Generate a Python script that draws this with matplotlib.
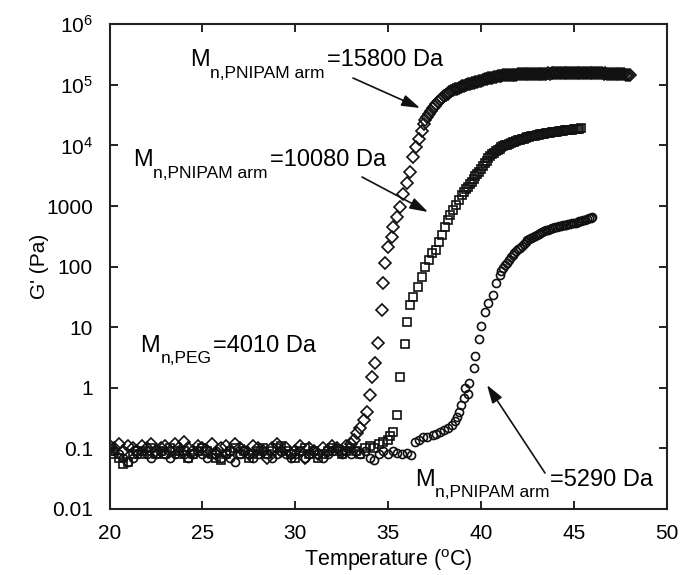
import matplotlib
matplotlib.use('Agg')
import matplotlib.pyplot as plt

plt.rcParams['font.family'] = ['Liberation Sans', 'DejaVu Sans']
plt.rcParams['mathtext.fontset'] = 'custom'
plt.rcParams['mathtext.rm'] = 'Liberation Sans'
plt.rcParams['mathtext.it'] = 'Liberation Sans:italic'

# ---- data ----
# diamonds, M_n,PNIPAM arm = 15800 Da
t_15800 = [20.0, 20.25, 20.5, 20.75, 21.0, 21.25, 21.5, 21.75, 22.0, 22.25,
           22.5, 22.75, 23.0, 23.25, 23.5, 23.75, 24.0, 24.25, 24.5, 24.75,
           25.0, 25.25, 25.5, 25.75, 26.0, 26.25, 26.5, 26.75, 27.0, 27.25,
           27.5, 27.75, 28.0, 28.25, 28.5, 28.75, 29.0, 29.25, 29.5, 29.75,
           30.0, 30.25, 30.5, 30.75, 31.0, 31.25, 31.5, 31.75, 32.0, 32.25,
           32.5, 32.75, 33.0,
           33.15, 33.3, 33.5, 33.68, 33.85, 34.0, 34.12, 34.27, 34.45, 34.66,
           34.73, 34.85, 35.0, 35.2, 35.27, 35.5, 35.65, 35.8, 36.0, 36.2,
           36.35, 36.5, 36.65, 36.8, 36.95,
           37.0, 37.1, 37.2, 37.3, 37.4, 37.5, 37.6, 37.7, 37.8, 37.9,
           38.0, 38.1, 38.2, 38.3, 38.4, 38.5, 38.6, 38.7, 38.8, 38.9,
           39.0, 39.1, 39.2, 39.3, 39.4, 39.5, 39.6, 39.7, 39.8, 39.9,
           40.0, 40.1, 40.2, 40.3, 40.4, 40.5, 40.6, 40.7, 40.8, 40.9,
           41.0, 41.1, 41.2, 41.3, 41.4, 41.5, 41.6, 41.7, 41.8, 41.9,
           42.0, 42.1, 42.2, 42.3, 42.4, 42.5, 42.6, 42.7, 42.8, 42.9,
           43.0, 43.1, 43.2, 43.3, 43.4, 43.5, 43.6, 43.7, 43.8, 43.9,
           44.0, 44.1, 44.2, 44.3, 44.4, 44.5, 44.6, 44.7, 44.8, 44.9,
           45.0, 45.1, 45.2, 45.3, 45.4, 45.5, 45.6, 45.7, 45.8, 45.9,
           46.0, 46.1, 46.2, 46.3, 46.4, 46.5, 46.6, 46.7, 46.8, 46.9,
           47.0, 47.1, 47.2, 47.3, 47.4, 47.5, 47.6, 47.7, 47.8, 47.9,
           48.0]
g_15800 = [0.11, 0.10, 0.12, 0.09, 0.11, 0.10, 0.09, 0.11, 0.10, 0.12,
           0.09, 0.10, 0.11, 0.09, 0.12, 0.10, 0.13, 0.10, 0.09, 0.11,
           0.10, 0.09, 0.12, 0.08, 0.10, 0.11, 0.09, 0.12, 0.10, 0.09,
           0.08, 0.11, 0.10, 0.09, 0.07, 0.10, 0.12, 0.09, 0.10, 0.08,
           0.09, 0.11, 0.07, 0.10, 0.09, 0.08, 0.10, 0.09, 0.11, 0.10,
           0.09, 0.11, 0.12,
           0.14, 0.18, 0.22, 0.30, 0.40, 0.76, 1.5, 2.6, 5.5, 19,
           54, 115, 210, 310, 450, 660, 950, 1600, 2400, 3600,
           6500, 9500, 13000, 17500, 23000,
           26000, 29000, 33000, 37000, 41000, 45000, 49000, 53000, 57000, 61000,
           65000, 68000, 72000, 75000, 78000, 81000, 84000, 87000, 89000, 92000,
           95000, 97000, 100000, 102000, 104000, 106000, 108000, 111000, 113000, 116000,
           118000, 121000, 123000, 126000, 128000, 130000, 132000, 134000, 136000, 138000,
           140000, 141000, 143000, 144000, 145000, 146000, 146000, 147000, 148000, 148000,
           149000, 149000, 150000, 150000, 151000, 150000, 151000, 152000, 151000, 152000,
           153000, 152000, 153000, 154000, 153000, 154000, 155000, 154000, 155000, 155000,
           156000, 155000, 156000, 156000, 157000, 156000, 157000, 157000, 156000, 157000,
           158000, 157000, 157000, 158000, 157000, 156000, 157000, 157000, 156000, 157000,
           156000, 156000, 155000, 156000, 155000, 155000, 154000, 155000, 154000, 153000,
           154000, 153000, 152000, 153000, 152000, 151000, 150000, 149000, 148000, 147000,
           146000]

# squares, M_n,PNIPAM arm = 10080 Da
t_10080 = [20.0, 20.25, 20.5, 20.75, 21.0, 21.25, 21.5, 21.75, 22.0, 22.25,
           22.5, 22.75, 23.0, 23.25, 23.5, 23.75, 24.0, 24.25, 24.5, 24.75,
           25.0, 25.25, 25.5, 25.75, 26.0, 26.25, 26.5, 26.75, 27.0, 27.25,
           27.5, 27.75, 28.0, 28.25, 28.5, 28.75, 29.0, 29.25, 29.5, 29.75,
           30.0, 30.25, 30.5, 30.75, 31.0, 31.25, 31.5, 31.75, 32.0, 32.25,
           32.5, 32.75, 33.0, 33.25, 33.5, 33.75, 34.0, 34.25, 34.5, 34.75,
           35.0,
           35.1, 35.27, 35.47, 35.64, 35.9, 36.0, 36.17, 36.35, 36.6, 36.8,
           37.0, 37.2, 37.35, 37.6, 37.75, 37.9, 38.05, 38.2, 38.35, 38.5,
           38.65, 38.8,
           39.0, 39.1, 39.2, 39.3, 39.4, 39.5, 39.6, 39.7, 39.8, 39.9,
           40.0, 40.1, 40.2, 40.3, 40.4, 40.5, 40.6, 40.7, 40.8, 40.9,
           41.0, 41.1, 41.2, 41.3, 41.4, 41.5, 41.6, 41.7, 41.8, 41.9,
           42.0, 42.1, 42.2, 42.3, 42.4, 42.5, 42.6, 42.7, 42.8, 42.9,
           43.0, 43.1, 43.2, 43.3, 43.4, 43.5, 43.6, 43.7, 43.8, 43.9,
           44.0, 44.1, 44.2, 44.3, 44.4, 44.5, 44.6, 44.7, 44.8, 44.9,
           45.0, 45.1, 45.2, 45.3, 45.4]
g_10080 = [0.09, 0.08, 0.07, 0.055, 0.06, 0.08, 0.09, 0.08, 0.09, 0.10,
           0.08, 0.09, 0.08, 0.10, 0.09, 0.08, 0.09, 0.07, 0.08, 0.09,
           0.10, 0.09, 0.08, 0.07, 0.065, 0.08, 0.09, 0.10, 0.08, 0.09,
           0.07, 0.08, 0.09, 0.10, 0.08, 0.09, 0.10, 0.11, 0.09, 0.08,
           0.07, 0.09, 0.10, 0.08, 0.09, 0.07, 0.08, 0.09, 0.10, 0.09,
           0.08, 0.09, 0.10, 0.09, 0.08, 0.10, 0.11, 0.10, 0.12, 0.13,
           0.14,
           0.16, 0.19, 0.36, 1.5, 5.3, 12, 23, 32, 46, 67,
           100, 130, 165, 190, 260, 330, 450, 590, 720, 850,
           1050, 1250,
           1500, 1700, 1900, 2100, 2300, 2500, 2800, 3100, 3400, 3700,
           4100, 4600, 5100, 5600, 6100, 6600, 7100, 7600, 8100, 8500,
           8900, 9300, 9700, 10000, 10300, 10700, 11000, 11300, 11600, 11900,
           12200, 12500, 12800, 13000, 13300, 13600, 13800, 14100, 14300, 14600,
           14800, 15000, 15200, 15400, 15600, 15800, 16000, 16200, 16400, 16600,
           16800, 17000, 17100, 17300, 17500, 17700, 17800, 18000, 18200, 18300,
           18500, 18600, 18800, 18900, 19100]

# circles, M_n,PNIPAM arm = 5290 Da
t_5290 = [20.0, 20.25, 20.5, 20.75, 21.0, 21.25, 21.5, 21.75, 22.0, 22.25,
          22.5, 22.75, 23.0, 23.25, 23.5, 23.75, 24.0, 24.25, 24.5, 24.75,
          25.0, 25.25, 25.5, 25.75, 26.0, 26.25, 26.5, 26.75, 27.0, 27.25,
          27.5, 27.75, 28.0, 28.25, 28.5, 28.75, 29.0, 29.25, 29.5, 29.75,
          30.0, 30.25, 30.5, 30.75, 31.0, 31.25, 31.5, 31.75, 32.0, 32.25,
          32.5, 32.75, 33.0, 33.25, 33.5, 33.75, 34.0, 34.25, 34.5, 34.75,
          35.0, 35.25, 35.5, 35.75, 36.0, 36.25,
          36.45, 36.65, 36.9, 37.1, 37.4, 37.6, 37.8, 38.0, 38.2, 38.45,
          38.6, 38.7, 38.8, 38.9, 39.1, 39.3, 39.15, 39.35, 39.6, 39.7,
          39.9, 40.0, 40.2, 40.4, 40.65, 40.8,
          41.0, 41.1, 41.2, 41.3, 41.4, 41.5, 41.6, 41.7, 41.8, 41.9,
          42.0, 42.1, 42.2, 42.3, 42.4, 42.5, 42.6, 42.7, 42.8, 42.9,
          43.0, 43.1, 43.2, 43.3, 43.4, 43.5, 43.6, 43.7, 43.8, 43.9,
          44.0, 44.1, 44.2, 44.3, 44.4, 44.5, 44.6, 44.7, 44.8, 44.9,
          45.0, 45.1, 45.2, 45.3, 45.4, 45.5, 45.6, 45.7, 45.8, 45.9,
          46.0]
g_5290 = [0.10, 0.09, 0.08, 0.07, 0.06, 0.07, 0.08, 0.09, 0.08, 0.07,
          0.08, 0.09, 0.08, 0.07, 0.08, 0.09, 0.08, 0.07, 0.08, 0.09,
          0.08, 0.07, 0.08, 0.09, 0.07, 0.08, 0.07, 0.06, 0.08, 0.09,
          0.08, 0.07, 0.08, 0.09, 0.08, 0.07, 0.08, 0.09, 0.08, 0.07,
          0.08, 0.09, 0.07, 0.08, 0.09, 0.08, 0.07, 0.08, 0.09, 0.10,
          0.08, 0.09, 0.08, 0.09, 0.08, 0.09, 0.07, 0.065, 0.08, 0.09,
          0.08, 0.09, 0.085, 0.08, 0.085, 0.078,
          0.13, 0.14, 0.155, 0.155, 0.166, 0.17, 0.19, 0.20, 0.22, 0.245,
          0.28, 0.33, 0.40, 0.52, 0.68, 0.78, 1.0, 1.2, 2.1, 3.3,
          6.4, 10.5, 18, 25, 34, 54,
          73, 84, 95, 105, 115, 130, 145, 158, 170, 182,
          195, 207, 220, 240, 258, 272, 285, 298, 310, 322,
          335, 347, 360, 372, 385, 397, 410, 420, 430, 440,
          450, 457, 465, 472, 480, 487, 495, 502, 510, 517,
          525, 535, 545, 557, 570, 585, 600, 615, 630, 645,
          660]

xticks = [20, 25, 30, 35, 40, 45, 50]
yticks = [0.01, 0.1, 1, 10, 100, 1000, 1e4, 1e5, 1e6]
ytick_labels = ['0.01', '0.1', '1', '10', '100', '1000',
                r'$\mathregular{10^{4}}$', r'$\mathregular{10^{5}}$', r'$\mathregular{10^{6}}$']

W, H = 683, 575
fig = plt.figure(figsize=(W / 100, H / 100), dpi=100)
ax = fig.add_axes([109.5 / W, 1 - 509 / H, 557.2 / W, 484.7 / H])

ec = '#111111'
ax.plot(t_15800, g_15800, 'D', ms=6.6, mfc='none', mec=ec, mew=1.2, ls='none')
ax.plot(t_10080, g_10080, 's', ms=6.3, mfc='none', mec=ec, mew=1.2, ls='none')
ax.plot(t_5290, g_5290, 'o', ms=5.8, mfc='none', mec=ec, mew=1.2, ls='none')

ax.set_yscale('log')
ax.set_xlim(20, 50)
ax.set_ylim(0.01, 1e6)
ax.set_xticks(xticks)
ax.set_xticklabels([str(x) for x in xticks])
ax.set_yticks(yticks)
ax.set_yticklabels(ytick_labels)
ax.minorticks_off()
ax.tick_params(direction='in', top=True, right=True, length=6, width=1.4,
               labelsize=15, color='#222222')
ax.tick_params(axis='x', pad=11)
ax.tick_params(axis='y', pad=12)
for s in ax.spines.values():
    s.set_linewidth(1.5)
    s.set_color('#222222')

ax.set_xlabel(r'Temperature ($\mathregular{^o}$C)', fontsize=15.5)
ax.set_ylabel("G' (Pa)", fontsize=15)
ax.xaxis.set_label_coords(0.5, -0.078)
ax.yaxis.set_label_coords(-0.108, 0.5)


def px(x, y):
    return x / W, 1 - y / H


def label(mx, base, sub, rest, subx, restx):
    fig.text(*px(mx, base), 'M', fontsize=17, va='baseline')
    fig.text(*px(subx, base + 11.5), sub, fontsize=12.5, va='baseline')
    fig.text(*px(restx, base), rest, fontsize=17, va='baseline')


label(190, 66.5, 'n,PNIPAM arm', '=15800 Da', 210, 327)
label(133, 166.5, 'n,PNIPAM arm', '=10080 Da', 153, 270)
label(140, 351.5, 'n,PEG', '=4010 Da', 161, 213)
label(415, 485.5, 'n,PNIPAM arm', '=5290 Da', 435, 550)

arrow = dict(arrowstyle='-|>,head_length=1.1,head_width=0.35', lw=1.2,
             color='#111111', shrinkA=0, shrinkB=0)
for tail, tip in [((353, 78), (420, 108)),
                  ((362, 177), (428, 212)),
                  ((545, 473), (487, 385))]:
    ax.annotate('', xy=px(*tip), xycoords='figure fraction',
                xytext=px(*tail), textcoords='figure fraction',
                arrowprops=arrow)

fig.savefig('out.png', dpi=100)
